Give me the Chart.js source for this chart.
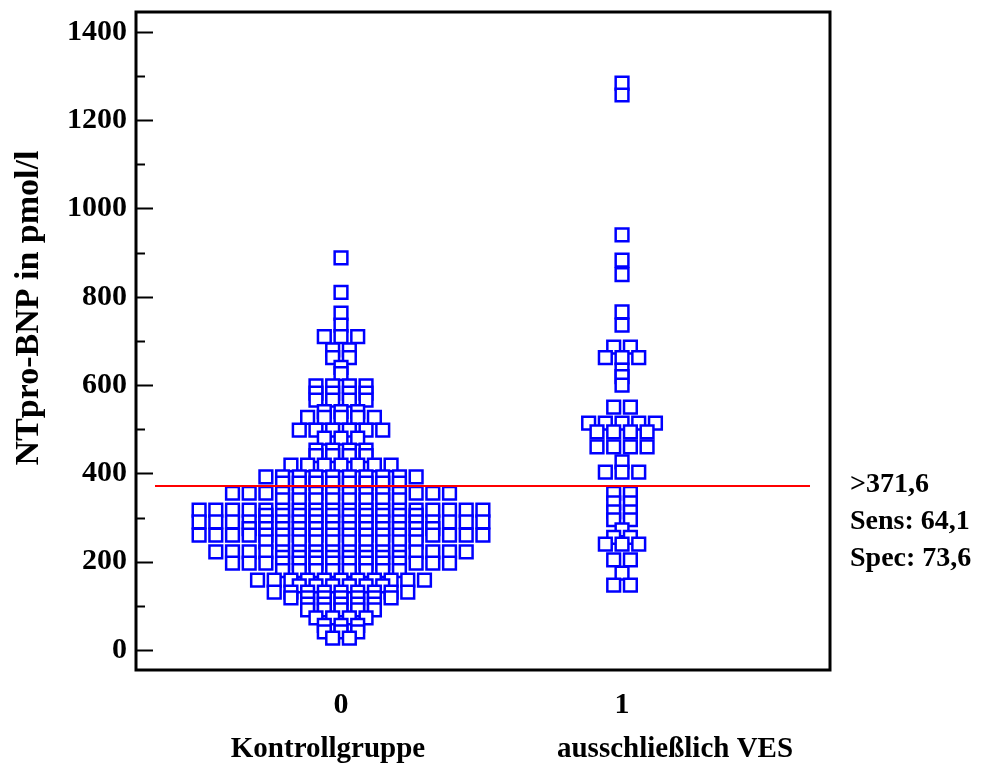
<!DOCTYPE html>
<html>
<head>
<meta charset="utf-8">
<script src="https://cdn.jsdelivr.net/npm/chart.js@4.4.1/dist/chart.umd.min.js"></script>
<style>
html,body{margin:0;padding:0;background:#ffffff;}
#wrap{width:986px;height:767px;position:relative;}
</style>
</head>
<body>
<div id="wrap"><canvas id="c"></canvas></div>
<script>
// ---------- data ----------
const groupCodes = [0, 1];
const groupNames = ['Kontrollgruppe', 'ausschließlich VES'];

// Kontrollgruppe: value levels (pmol/l) and number of dots at each level
const controlLevels = [888, 810, 763, 736, 710, 680, 662, 640, 626, 598, 582, 566, 540, 527, 498, 480, 453, 440, 419, 392, 378,
                       355, 340, 317, 305, 290, 275, 260, 245, 222, 210, 197, 180, 158, 145, 131, 118, 104, 91, 73, 56, 41, 27];
const controlCounts = [1, 1, 1, 1, 3, 2, 2, 1, 1, 4, 4, 4, 3, 5, 6, 3, 4, 4, 7, 10, 8,
                       14, 8, 18, 10, 18, 12, 18, 10, 16, 8, 14, 8, 11, 6, 9, 7, 5, 5, 4, 3, 3, 2];

// ausschließlich VES
const vesLevels = [1284, 1257, 940, 883, 850, 766, 736, 686, 662, 634, 619, 600, 550, 514, 494, 460, 426, 403,
                   355, 333, 313, 295, 272, 255, 240, 204, 174, 147];
const vesCounts = [1, 1, 1, 1, 1, 1, 1, 2, 3, 1, 1, 1, 2, 5, 4, 4, 1, 3,
                   2, 2, 2, 2, 1, 2, 3, 2, 1, 2];

const yTickValues = [0, 100, 200, 300, 400, 500, 600, 700, 800, 900, 1000, 1100, 1200, 1300, 1400];
const yLabelValues = [0, 200, 400, 600, 800, 1000, 1200, 1400];

const cutoffValue = 371.6;
const sensValue = 64.1;
const specValue = 73.6;
const yTitle = 'NTpro-BNP in pmol/l';

// ---------- layout helpers ----------
const COL = 0.0594;  // horizontal spacing between neighbouring dots (x units)
function dotRows(levels, counts, center) {
  const pts = [];
  levels.forEach((v, k) => {
    const n = counts[k];
    for (let i = 0; i < n; i++) pts.push({x: center + (i - (n - 1) / 2) * COL, y: v});
  });
  return pts;
}
const fmt = v => String(v).replace('.', ',');

const FONT = 'Liberation Serif';
const BLUE = '#0000ff';
const nameShift = [-13, 53];   // horizontal shift of the group captions (px)

const framePlugin = {
  id: 'frame',
  afterDraw(chart) {
    const {ctx, chartArea: a, scales} = chart;
    const y = scales.y, x = scales.x;
    ctx.save();
    // cutoff line
    const cy = y.getPixelForValue(cutoffValue);
    ctx.strokeStyle = '#ff0000';
    ctx.lineWidth = 2;
    ctx.beginPath();
    ctx.moveTo(a.left + 19, cy);
    ctx.lineTo(a.right - 20, cy);
    ctx.stroke();
    // frame
    ctx.strokeStyle = '#000';
    ctx.lineWidth = 3;
    ctx.strokeRect(a.left, a.top, a.right - a.left, a.bottom - a.top);
    // inward y ticks
    ctx.lineWidth = 2;
    yTickValues.forEach(v => {
      const py = Math.round(y.getPixelForValue(v)) + 0.5;
      const len = yLabelValues.includes(v) ? 17 : 9;
      ctx.beginPath();
      ctx.moveTo(a.left, py);
      ctx.lineTo(a.left + len, py);
      ctx.stroke();
    });
    ctx.fillStyle = '#000';
    ctx.textBaseline = 'middle';
    // group captions
    ctx.textAlign = 'center';
    ctx.font = 'bold 29px "' + FONT + '"';
    groupCodes.forEach((g, i) => ctx.fillText(groupNames[i], x.getPixelForValue(g) + nameShift[i], a.bottom + 80));
    // right-side annotation
    ctx.textAlign = 'left';
    ctx.font = 'bold 28px "' + FONT + '"';
    const lines = ['>' + fmt(cutoffValue), 'Sens: ' + fmt(sensValue), 'Spec: ' + fmt(specValue)];
    lines.forEach((t, i) => ctx.fillText(t, a.right + 20, cy - 1 + i * 37));
    // y title
    ctx.save();
    ctx.translate(29, 308);
    ctx.rotate(-Math.PI / 2);
    ctx.textAlign = 'center';
    ctx.font = 'bold 34px "' + FONT + '"';
    ctx.fillText(yTitle, 0, 0);
    ctx.restore();
    ctx.restore();
  }
};

const dotStyle = {
  showLine: false,
  pointStyle: 'rect',
  pointRadius: 9,
  pointHoverRadius: 9,
  pointBorderWidth: 2.5,
  pointBorderColor: BLUE,
  pointBackgroundColor: '#ffffff',
  borderColor: BLUE,
  backgroundColor: '#ffffff'
};

new Chart(document.getElementById('c'), {
  type: 'scatter',
  data: {
    datasets: [
      Object.assign({label: groupNames[0], data: dotRows(controlLevels, controlCounts, groupCodes[0])}, dotStyle),
      Object.assign({label: groupNames[1], data: dotRows(vesLevels, vesCounts, groupCodes[1])}, dotStyle)
    ]
  },
  options: {
    responsive: true,
    maintainAspectRatio: false,
    animation: false,
    events: [],
    layout: {padding: {left: 0, right: 156, top: 12, bottom: 0}},
    plugins: {legend: {display: false}, tooltip: {enabled: false}},
    scales: {
      x: {
        type: 'linear',
        min: -0.7295,
        max: 1.740,
        afterBuildTicks: s => { s.ticks = groupCodes.map(v => ({value: v})); },
        afterFit: s => { s.height = 97; s.paddingLeft = 0; s.paddingRight = 0; },
        grid: {display: false, drawTicks: false},
        border: {display: false},
        ticks: {
          autoSkip: false,
          maxRotation: 0,
          padding: 17,
          color: '#000',
          font: {family: FONT, weight: 'bold', size: 30},
          callback: v => String(v)
        }
      },
      y: {
        type: 'linear',
        min: -45.3,
        max: 1445,
        afterBuildTicks: s => { s.ticks = yLabelValues.map(v => ({value: v})); },
        afterFit: s => { s.width = 136; s.paddingTop = 0; s.paddingBottom = 0; },
        grid: {display: false, drawTicks: false},
        border: {display: false},
        ticks: {
          padding: 9,
          color: '#000',
          font: {family: FONT, weight: 'bold', size: 30},
          callback: v => String(v)
        }
      }
    }
  },
  plugins: [framePlugin]
});
</script>
</body>
</html>
